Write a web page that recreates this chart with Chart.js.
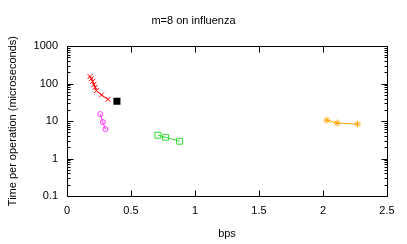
<!DOCTYPE html>
<html><head><meta charset="utf-8">
<script src="https://cdn.jsdelivr.net/npm/chart.js@4/dist/chart.umd.min.js"></script>
<style>html,body{margin:0;padding:0;background:#fff}#wrap{width:407px;height:244px}</style>
</head><body><div id="wrap"><canvas id="c" width="407" height="244"></canvas></div>
<script>
const titleText = 'm=8 on influenza';
const xTitle = 'bps';
const yTitle = 'Time per operation (microseconds)';
const xTickValues = [0, 0.5, 1, 1.5, 2, 2.5];
const xTickLabels = ['0', '0.5', '1', '1.5', '2', '2.5'];
const yTickValues = [0.1, 1, 10, 100, 1000];
const yTickLabels = ['0.1', '1', '10', '100', '1000'];

const redX = [0.18, 0.19, 0.20, 0.21, 0.22, 0.23, 0.27, 0.32];
const redY = [155, 135, 115, 95, 80, 65, 50, 38];
const blackX = [0.39];
const blackY = [34];
const magentaX = [0.26, 0.28, 0.30];
const magentaY = [15.4, 9.4, 6.1];
const greenX = [0.71, 0.77, 0.88];
const greenY = [4.2, 3.7, 2.9];
const orangeX = [2.03, 2.11, 2.27];
const orangeY = [10.6, 8.9, 8.3];

const pts = (xs, ys) => xs.map((x, i) => ({x, y: ys[i]}));
const FONT = 'Liberation Sans, Arial, Helvetica, sans-serif';

const frame = {
  id: 'frame',
  afterDraw(chart) {
    const {ctx, chartArea: a, scales: {x, y}} = chart;
    ctx.save();
    ctx.strokeStyle = '#000';
    ctx.lineWidth = 1;
    ctx.beginPath();
    const L = Math.round(a.left) + 0.5, R = Math.round(a.right) + 0.5;
    const T = Math.round(a.top) + 0.5, B = Math.round(a.bottom) + 0.5;
    ctx.rect(L, T, R - L, B - T);
    // x ticks
    xTickValues.forEach(v => {
      const px = Math.round(x.getPixelForValue(v)) + 0.5;
      ctx.moveTo(px, B); ctx.lineTo(px, B - 6);
      ctx.moveTo(px, T); ctx.lineTo(px, T + 6);
    });
    // y ticks (major + minor)
    for (let d = 0; d < yTickValues.length; d++) {
      const base = yTickValues[d];
      const py = Math.round(y.getPixelForValue(base)) + 0.5;
      ctx.moveTo(L, py); ctx.lineTo(L + 6, py);
      ctx.moveTo(R, py); ctx.lineTo(R - 6, py);
      if (d < yTickValues.length - 1) {
        for (let m = 2; m <= 9; m++) {
          const my = Math.round(y.getPixelForValue(base * m)) + 0.5;
          ctx.moveTo(L, my); ctx.lineTo(L + 3, my);
          ctx.moveTo(R, my); ctx.lineTo(R - 3, my);
        }
      }
    }
    ctx.stroke();
    ctx.restore();
  }
};

new Chart(document.getElementById('c'), {
  type: 'scatter',
  data: {
    datasets: [
      {data: pts(redX, redY), showLine: true, borderColor: '#ff0000', backgroundColor: '#ff0000', borderWidth: 1, pointStyle: 'crossRot', pointRadius: 3.5, pointBorderWidth: 1},
      {data: pts(blackX, blackY), showLine: false, borderColor: '#000', backgroundColor: '#000', pointStyle: 'rect', pointRadius: 5, pointBorderWidth: 0},
      {data: pts(magentaX, magentaY), showLine: true, borderColor: '#ff33ff', backgroundColor: 'rgba(0,0,0,0)', borderWidth: 1, pointStyle: 'circle', pointRadius: 2.5, pointBorderWidth: 1},
      {data: pts(greenX, greenY), showLine: true, borderColor: '#33dd33', backgroundColor: 'rgba(0,0,0,0)', borderWidth: 1, pointStyle: 'rect', pointRadius: 4.2, pointBorderWidth: 1},
      {data: pts(orangeX, orangeY), showLine: true, borderColor: '#ffa500', backgroundColor: '#ffa500', borderWidth: 1, pointStyle: 'star', pointRadius: 3.5, pointBorderWidth: 1}
    ]
  },
  options: {
    responsive: false,
    animation: false,
    devicePixelRatio: 1,
    layout: {padding: {left: 0, right: 20, top: 0, bottom: 0}},
    plugins: {
      legend: {display: false},
      tooltip: {enabled: false},
      title: {display: true, text: titleText, color: '#000', font: {family: FONT, size: 11, weight: 'normal'}, padding: {top: 14, bottom: 19}}
    },
    scales: {
      x: {
        type: 'linear', min: 0, max: 2.5,
        afterBuildTicks: s => { s.ticks = xTickValues.map(v => ({value: v})); },
        afterFit: s => { s.height = 48; },
        grid: {display: false, drawTicks: false},
        border: {display: false},
        ticks: {color: '#000', font: {family: FONT, size: 11}, padding: 8, maxRotation: 0,
          callback: (v) => { const i = xTickValues.indexOf(v); return i >= 0 ? xTickLabels[i] : ''; }},
        title: {display: true, text: xTitle, color: '#000', font: {family: FONT, size: 11}, padding: {top: 3, bottom: 3}}
      },
      y: {
        type: 'logarithmic', min: 0.1, max: 1000,
        afterBuildTicks: s => { s.ticks = yTickValues.map(v => ({value: v})); },
        afterFit: s => { s.width = 67; },
        grid: {display: false, drawTicks: false},
        border: {display: false},
        ticks: {color: '#000', font: {family: FONT, size: 11}, padding: 9,
          callback: (v) => { const i = yTickValues.findIndex(t => Math.abs(t - v) < 1e-9 * Math.max(1, t)); return i >= 0 ? yTickLabels[i] : ''; }},
        title: {display: true, text: yTitle, color: '#000', font: {family: FONT, size: 11}, padding: {top: 6, bottom: 0}}
      }
    }
  },
  plugins: [frame]
});
</script>
</body></html>
